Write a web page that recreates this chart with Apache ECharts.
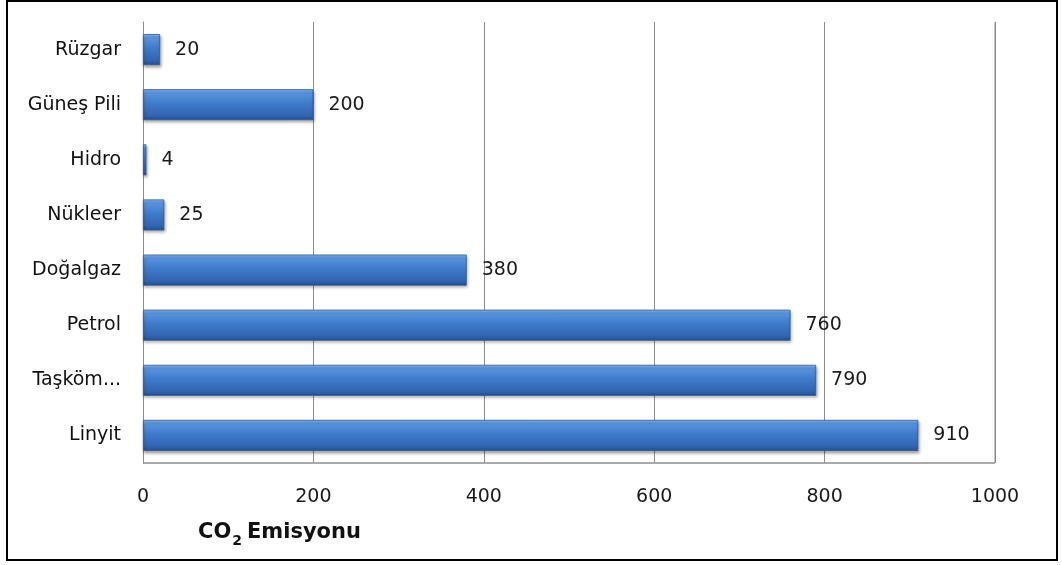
<!DOCTYPE html>
<html>
<head>
<meta charset="utf-8">
<script src="https://cdn.jsdelivr.net/npm/echarts@6/dist/echarts.min.js"></script>
<style>
html,body{margin:0;padding:0;background:#fff;}
#c{width:1062px;height:565px;}
</style>
</head>
<body>
<div id="c"></div>
<script>
const categories = ['Linyit', 'Taşköm...', 'Petrol', 'Doğalgaz', 'Nükleer', 'Hidro', 'Güneş Pili', 'Rüzgar'];
const values = [910, 790, 760, 380, 25, 4, 200, 20];
const xTicks = [0, 200, 400, 600, 800, 1000];

const FONT = '"DejaVu Sans", sans-serif';
const chart = echarts.init(document.getElementById('c'));
chart.setOption({
  backgroundColor: '#fff',
  animation: false,
  grid: {left: 143, right: 67, top: 22, bottom: 102, containLabel: false},
  xAxis: {
    type: 'value', min: xTicks[0], max: xTicks[xTicks.length - 1], interval: 200,
    axisLine: {show: false},
    axisTick: {show: false},
    splitLine: {show: true, lineStyle: {color: '#8c8c8c', width: 1}},
    axisLabel: {color: '#1a1a1a', fontSize: 19, fontFamily: FONT, margin: 25, formatter: v => String(v)}
  },
  yAxis: {
    type: 'category', data: categories,
    axisLine: {show: true, lineStyle: {color: '#8c8c8c'}},
    axisTick: {show: false},
    axisLabel: {color: '#111', fontSize: 19, fontFamily: FONT, margin: 22}
  },
  graphic: [
    {type: 'rect', shape: {x: 7, y: 1, width: 1050, height: 559}, style: {fill: 'none', stroke: '#000', lineWidth: 2}, silent: true},
    {type: 'line', shape: {x1: 143, y1: 463, x2: 995, y2: 463}, style: {stroke: '#8c8c8c', lineWidth: 1.5}, silent: true},
    {type: 'line', shape: {x1: 995, y1: 22, x2: 995, y2: 463}, style: {stroke: '#8c8c8c', lineWidth: 1}, silent: true}
  ],
  title: {
    text: '{a|CO}{s|2}{a|Emisyonu}',
    left: 198, top: 517, padding: 0,
    textStyle: {
      rich: {
        a: {fontSize: 21, fontWeight: 'bold', color: '#111', fontFamily: FONT, lineHeight: 26, verticalAlign: 'bottom'},
        s: {fontSize: 14, fontWeight: 'bold', color: '#111', fontFamily: FONT, lineHeight: 26, verticalAlign: 'bottom', padding: [0, 5, -5, 1]}
      }
    }
  },
  series: [{
    type: 'bar',
    data: values,
    barWidth: 31,
    itemStyle: {
      color: new echarts.graphic.LinearGradient(0, 0, 0, 1, [
        {offset: 0, color: '#8dbbf0'},
        {offset: 0.12, color: '#5a94de'},
        {offset: 0.45, color: '#3f7bcb'},
        {offset: 0.85, color: '#3165b2'},
        {offset: 1, color: '#234e8c'}
      ]),
      borderColor: '#2d5c9e', borderWidth: 0.8,
      shadowColor: 'rgba(0,0,0,0.35)', shadowBlur: 3, shadowOffsetX: 1, shadowOffsetY: 2
    },
    label: {
      show: true, position: 'right', distance: 15,
      color: '#1a1a1a', fontSize: 19, fontFamily: FONT
    }
  }]
});
</script>
</body>
</html>
